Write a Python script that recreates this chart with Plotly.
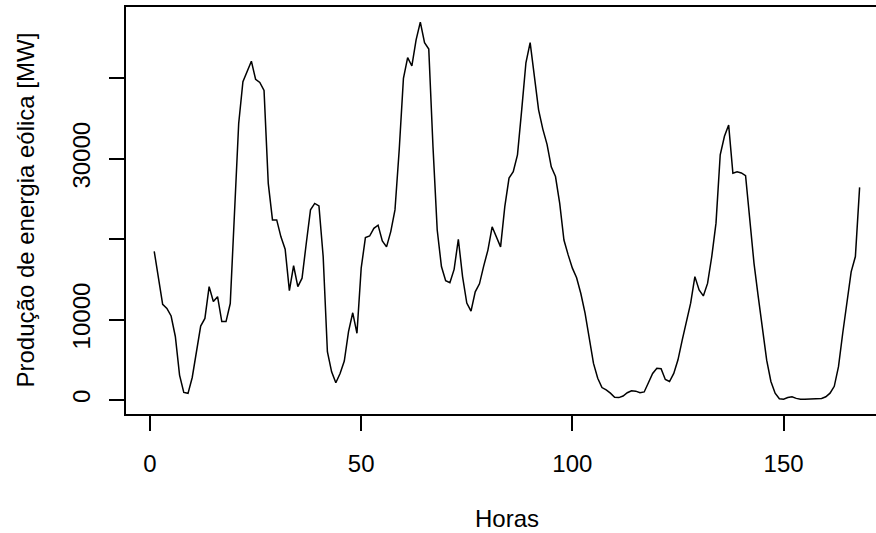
import plotly.graph_objects as go

# Hourly wind power production over one week (168 hours), in MW
horas = list(range(1, 169))
producao = [
    18500, 15100, 11900, 11400, 10450, 7900, 3100, 950, 830, 2800,
    6000, 9200, 10150, 14100, 12250, 12850, 9750, 9750, 12000, 22800,
    34400, 39600, 40800, 42150, 39900, 39500, 38500, 26950, 22400, 22400,
    20300, 18750, 13600, 16700, 14100, 15150, 19500, 23650, 24450, 24150,
    17850, 6000, 3500, 2150, 3300, 4850, 8500, 10850, 8300, 16400,
    20200, 20400, 21350, 21750, 19800, 19050, 20950, 23650, 31100, 40000,
    42600, 41550, 44800, 47000, 44450, 43650, 31500, 21150, 16600, 14850,
    14600, 16250, 20000, 15350, 12050, 11050, 13450, 14450, 16650, 18650,
    21550, 20400, 19050, 24050, 27600, 28400, 30500, 36100, 41950, 44450,
    40600, 36100, 33700, 31800, 29000, 27800, 24450, 19900, 18050, 16400,
    15200, 13250, 10800, 7450, 4550, 2700, 1550, 1250, 850, 330,
    300, 500, 900, 1150, 1100, 900, 1000, 2150, 3300, 3950,
    3900, 2550, 2300, 3300, 5000, 7450, 9950, 12050, 15350, 13700,
    12950, 14500, 17850, 22000, 30500, 32800, 34200, 28200, 28400, 28250,
    27900, 22400, 17000, 12850, 8700, 4950, 2300, 850, 150, 100,
    300, 400, 200, 100, 100, 120, 130, 120, 200, 400,
    850, 1700, 4150, 8300, 12450, 15950, 17850, 26450,
]

x_ticks = [0, 50, 100, 150]
y_ticks = [0, 10000, 20000, 30000, 40000]
y_tick_text = ["0", "10000", "", "30000", ""]

FONT = dict(family="Liberation Sans, Arial, sans-serif", size=24, color="black")

fig = go.Figure()
fig.add_trace(go.Scatter(
    x=horas, y=producao, mode="lines",
    line=dict(color="black", width=1.5),
    showlegend=False, hoverinfo="skip",
))

fig.update_layout(
    width=876, height=533,
    margin=dict(l=126, r=0, t=7, b=119, autoexpand=False),
    paper_bgcolor="white", plot_bgcolor="white",
    font=FONT,
    xaxis=dict(
        range=[-5.68, 171.88], tickvals=x_ticks, ticktext=[str(v) for v in x_ticks],
        showgrid=False, zeroline=False, showline=True, mirror=True,
        linecolor="black", linewidth=1.5,
        ticks="outside", ticklen=15, tickwidth=1.5, tickcolor="black",
        ticklabelstandoff=12, tickfont=FONT,
    ),
    yaxis=dict(
        range=[-1742, 48889], tickvals=y_ticks, ticktext=y_tick_text,
        showgrid=False, zeroline=False, showline=True, mirror=False,
        linecolor="black", linewidth=1.5,
        ticks="outside", ticklen=15, tickwidth=1.5, tickcolor="black",
        tickangle=-90, ticklabelstandoff=10, tickfont=FONT,
    ),
    annotations=[
        dict(text="Horas", xref="paper", yref="paper", x=0.508, y=0,
             xanchor="center", yanchor="middle", yshift=-104,
             showarrow=False, font=FONT),
        dict(text="Produção de energia eólica [MW]", xref="paper", yref="paper",
             x=0, y=0.5, xanchor="center", yanchor="middle", xshift=-101,
             textangle=-90, showarrow=False, font=FONT),
    ],
)

fig.write_html("out.html")
